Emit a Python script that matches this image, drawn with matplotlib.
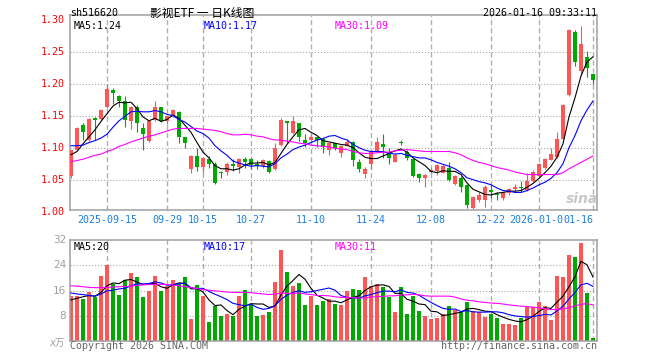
import matplotlib
from matplotlib import pyplot as plt
from matplotlib.transforms import blended_transform_factory

matplotlib.use("Agg")
plt.rcParams["lines.scale_dashes"] = False

# daily candles, 2025-09-05 .. 2026-01-16 (88 trading days)
opens = [1.056, 1.098, 1.136, 1.113, 1.146, 1.146, 1.165, 1.191, 1.182, 1.174,
         1.143, 1.165, 1.132, 1.111, 1.144, 1.164, 1.142, 1.150, 1.157, 1.117,
         1.068, 1.088, 1.071, 1.083, 1.075, 1.062, 1.063, 1.074, 1.071, 1.083,
         1.084, 1.074, 1.072, 1.080, 1.068, 1.105, 1.141, 1.124, 1.139, 1.113,
         1.113, 1.117, 1.115, 1.098, 1.108, 1.092, 1.104, 1.110, 1.078, 1.060,
         1.076, 1.095, 1.106, 1.095, 1.079, 1.109, 1.095, 1.083, 1.060, 1.054,
         1.063, 1.064, 1.062, 1.070, 1.045, 1.053, 1.043, 1.007, 1.019, 1.019,
         1.033, 1.028, 1.023, 1.030, 1.037, 1.039, 1.035, 1.049, 1.056, 1.070,
         1.082, 1.087, 1.115, 1.183, 1.282, 1.221, 1.242, 1.216]
highs = [1.098, 1.134, 1.140, 1.148, 1.149, 1.161, 1.200, 1.195, 1.183, 1.182,
         1.166, 1.168, 1.139, 1.145, 1.174, 1.165, 1.152, 1.162, 1.159, 1.118,
         1.090, 1.100, 1.087, 1.088, 1.078, 1.065, 1.078, 1.084, 1.085, 1.086,
         1.085, 1.082, 1.083, 1.081, 1.109, 1.148, 1.143, 1.150, 1.140, 1.122,
         1.123, 1.117, 1.118, 1.109, 1.109, 1.105, 1.115, 1.112, 1.084, 1.071,
         1.097, 1.118, 1.122, 1.101, 1.092, 1.113, 1.097, 1.084, 1.061, 1.060,
         1.070, 1.076, 1.075, 1.078, 1.058, 1.056, 1.044, 1.025, 1.032, 1.043,
         1.042, 1.032, 1.032, 1.038, 1.045, 1.049, 1.061, 1.066, 1.077, 1.085,
         1.100, 1.125, 1.170, 1.286, 1.285, 1.291, 1.252, 1.216]
lows = [1.053, 1.097, 1.113, 1.112, 1.113, 1.145, 1.163, 1.170, 1.164, 1.134,
        1.130, 1.126, 1.098, 1.110, 1.143, 1.141, 1.138, 1.149, 1.109, 1.101,
        1.062, 1.064, 1.061, 1.069, 1.044, 1.053, 1.059, 1.065, 1.061, 1.070,
        1.067, 1.067, 1.069, 1.062, 1.066, 1.104, 1.108, 1.123, 1.111, 1.102,
        1.111, 1.102, 1.092, 1.089, 1.097, 1.087, 1.103, 1.072, 1.063, 1.053,
        1.068, 1.094, 1.085, 1.076, 1.079, 1.105, 1.082, 1.055, 1.048, 1.040,
        1.061, 1.058, 1.062, 1.049, 1.043, 1.032, 1.007, 1.000, 1.016, 1.009,
        1.022, 1.020, 1.019, 1.027, 1.033, 1.032, 1.033, 1.048, 1.055, 1.068,
        1.081, 1.085, 1.114, 1.181, 1.229, 1.215, 1.212, 1.200]
closes = [1.097, 1.132, 1.125, 1.146, 1.145, 1.160, 1.193, 1.186, 1.174, 1.144,
          1.165, 1.139, 1.122, 1.143, 1.165, 1.143, 1.150, 1.160, 1.118, 1.108,
          1.088, 1.071, 1.085, 1.075, 1.046, 1.061, 1.075, 1.073, 1.084, 1.079,
          1.074, 1.073, 1.082, 1.063, 1.100, 1.144, 1.140, 1.143, 1.118, 1.108,
          1.118, 1.113, 1.102, 1.108, 1.101, 1.104, 1.110, 1.082, 1.068, 1.067,
          1.095, 1.110, 1.102, 1.085, 1.090, 1.108, 1.085, 1.057, 1.054, 1.059,
          1.066, 1.074, 1.073, 1.050, 1.057, 1.040, 1.011, 1.024, 1.027, 1.040,
          1.032, 1.027, 1.031, 1.037, 1.038, 1.038, 1.049, 1.063, 1.075, 1.084,
          1.091, 1.115, 1.168, 1.285, 1.235, 1.263, 1.225, 1.206]
# volume, 10k shares
volumes = [14.1, 14.1, 13.3, 15.5, 13.8, 20.5, 24.2, 18.0, 14.6, 19.2,
           21.5, 20.2, 13.8, 15.7, 20.5, 16.0, 17.5, 19.4, 18.5, 20.2,
           6.9, 17.8, 14.1, 6.1, 11.1, 8.0, 8.5, 8.0, 14.4, 16.2,
           11.7, 8.0, 8.2, 9.0, 18.6, 29.0, 22.0, 17.3, 18.5, 11.4,
           14.1, 11.4, 12.7, 13.3, 11.7, 11.4, 15.9, 16.5, 16.2, 20.2,
           17.3, 18.1, 17.0, 13.8, 9.3, 17.2, 8.5, 14.1, 9.5, 8.0,
           6.9, 7.3, 8.4, 10.9, 9.8, 9.1, 12.2, 9.5, 9.0, 7.4,
           8.5, 7.3, 5.3, 5.3, 5.0, 7.3, 10.8, 10.8, 12.4, 11.1,
           6.6, 20.7, 20.4, 27.4, 26.8, 31.3, 15.1, 0.7]

ma5 = [1.090, 1.095, 1.107, 1.118, 1.129, 1.142, 1.154, 1.166, 1.172, 1.171,
       1.172, 1.162, 1.149, 1.143, 1.147, 1.142, 1.145, 1.152, 1.147, 1.136,
       1.125, 1.109, 1.094, 1.085, 1.073, 1.068, 1.068, 1.066, 1.068, 1.074,
       1.077, 1.077, 1.078, 1.074, 1.078, 1.092, 1.106, 1.118, 1.129, 1.131,
       1.125, 1.120, 1.112, 1.110, 1.108, 1.106, 1.105, 1.101, 1.093, 1.086,
       1.084, 1.084, 1.088, 1.092, 1.096, 1.099, 1.094, 1.085, 1.079, 1.073,
       1.064, 1.062, 1.065, 1.064, 1.064, 1.059, 1.046, 1.036, 1.032, 1.028,
       1.027, 1.030, 1.031, 1.033, 1.033, 1.034, 1.039, 1.045, 1.053, 1.062,
       1.072, 1.086, 1.107, 1.149, 1.179, 1.213, 1.235, 1.243]
ma10 = [1.104, 1.104, 1.105, 1.109, 1.112, 1.116, 1.122, 1.133, 1.143, 1.150,
        1.157, 1.158, 1.157, 1.157, 1.159, 1.157, 1.153, 1.151, 1.145, 1.141,
        1.134, 1.127, 1.123, 1.116, 1.104, 1.096, 1.089, 1.080, 1.077, 1.074,
        1.072, 1.073, 1.072, 1.071, 1.076, 1.085, 1.091, 1.098, 1.102, 1.105,
        1.109, 1.113, 1.115, 1.119, 1.120, 1.116, 1.113, 1.106, 1.101, 1.097,
        1.095, 1.095, 1.095, 1.092, 1.091, 1.092, 1.089, 1.087, 1.085, 1.085,
        1.082, 1.078, 1.075, 1.072, 1.068, 1.062, 1.054, 1.051, 1.048, 1.046,
        1.043, 1.038, 1.034, 1.033, 1.031, 1.031, 1.034, 1.038, 1.043, 1.047,
        1.053, 1.062, 1.076, 1.101, 1.120, 1.143, 1.160, 1.174]
ma30 = [1.079, 1.081, 1.083, 1.086, 1.089, 1.091, 1.095, 1.098, 1.103, 1.106,
        1.110, 1.113, 1.116, 1.119, 1.121, 1.124, 1.127, 1.130, 1.131, 1.131,
        1.131, 1.131, 1.130, 1.129, 1.128, 1.126, 1.123, 1.121, 1.121, 1.122,
        1.121, 1.119, 1.118, 1.115, 1.113, 1.113, 1.111, 1.110, 1.108, 1.107,
        1.105, 1.104, 1.103, 1.102, 1.100, 1.099, 1.098, 1.095, 1.093, 1.092,
        1.092, 1.093, 1.094, 1.094, 1.096, 1.097, 1.098, 1.097, 1.096, 1.095,
        1.095, 1.095, 1.095, 1.095, 1.093, 1.090, 1.085, 1.081, 1.078, 1.076,
        1.073, 1.070, 1.068, 1.066, 1.063, 1.061, 1.059, 1.059, 1.059, 1.059,
        1.059, 1.059, 1.062, 1.068, 1.073, 1.078, 1.083, 1.088]
vol_ma5 = [13.0, 13.5, 14.0, 14.4, 14.2, 15.4, 17.5, 18.4, 18.2, 19.3,
           19.5, 18.7, 17.9, 18.1, 18.3, 17.2, 16.7, 17.8, 18.4, 18.3,
           16.5, 16.6, 15.5, 13.0, 11.2, 11.4, 9.6, 8.3, 10.0, 11.0,
           11.8, 11.7, 11.7, 10.6, 11.1, 14.6, 17.4, 19.2, 21.1, 19.6,
           16.7, 14.5, 13.6, 12.6, 12.6, 12.1, 13.0, 13.8, 14.3, 16.0,
           17.2, 17.7, 17.8, 17.3, 15.1, 15.1, 13.2, 12.6, 11.7, 11.5,
           9.4, 9.2, 8.0, 8.3, 8.7, 9.1, 10.1, 10.3, 9.9, 9.4,
           9.3, 8.3, 7.5, 6.8, 6.3, 6.0, 6.7, 7.8, 9.3, 10.5,
           10.3, 12.3, 14.2, 17.2, 20.4, 25.3, 24.2, 20.3]
vol_ma10 = [15.2, 14.9, 14.7, 14.4, 14.2, 14.9, 15.9, 16.1, 16.5, 16.7,
            17.5, 18.1, 18.1, 18.2, 18.8, 18.4, 17.7, 17.8, 18.2, 18.3,
            16.9, 16.6, 16.7, 15.7, 14.8, 14.0, 13.1, 11.9, 11.5, 11.1,
            11.6, 10.6, 10.0, 10.3, 11.1, 13.2, 14.5, 15.4, 15.9, 15.4,
            15.6, 16.0, 16.4, 16.8, 16.1, 14.4, 13.8, 13.7, 13.5, 14.3,
            14.7, 15.3, 15.8, 15.8, 15.6, 16.2, 15.4, 15.2, 14.5, 13.3,
            12.2, 11.2, 10.3, 10.0, 10.1, 9.3, 9.6, 9.2, 9.1, 9.1,
            9.2, 9.2, 8.9, 8.3, 7.9, 7.7, 7.5, 7.7, 8.0, 8.4,
            8.2, 9.5, 11.0, 13.3, 15.4, 17.8, 18.3, 17.3]
vol_ma30 = [17.5, 17.4, 17.2, 17.0, 16.9, 16.9, 17.0, 17.1, 17.2, 17.3,
            17.4, 17.6, 17.8, 17.9, 18.0, 18.0, 17.9, 17.7, 17.5, 17.2,
            16.9, 16.6, 16.3, 16.1, 15.9, 15.7, 15.5, 15.4, 15.4, 15.4,
            15.3, 15.1, 14.9, 14.7, 14.9, 15.2, 15.1, 15.1, 15.2, 14.9,
            14.7, 14.4, 14.4, 14.3, 14.0, 13.8, 13.8, 13.7, 13.6, 13.6,
            14.0, 14.0, 14.1, 14.3, 14.3, 14.6, 14.6, 14.8, 14.6, 14.3,
            14.2, 14.2, 14.2, 14.2, 13.9, 13.3, 12.9, 12.7, 12.4, 12.2,
            12.0, 11.9, 11.7, 11.4, 11.2, 11.0, 10.9, 10.7, 10.5, 10.2,
            9.9, 10.0, 10.1, 10.5, 11.1, 11.6, 11.8, 11.4]

date_pos = [6, 16, 22, 30, 40, 50, 60, 70, 78, 87]
date_labels = ["2025-09-15", "09-29", "10-15", "10-27", "11-10", "11-24",
               "12-08", "12-22", "2026-01-05", "01-16"]
price_ticks = [1.00, 1.05, 1.10, 1.15, 1.20, 1.25, 1.30]
vol_ticks = [8, 16, 24, 32]

RED = "#ff5555"
GREEN = "#00a800"
MONO = "DejaVu Sans Mono"
W, H = 660, 360


def box(left, top, right, bottom):
    return [left / W, 1 - bottom / H, (right - left) / W, (bottom - top) / H]


def fx(x):
    return x / W


def fy(y):
    return 1 - y / H


fig = plt.figure(figsize=(6.6, 3.6), dpi=100)
fig.patch.set_facecolor("white")
ax = fig.add_axes(box(70, 15, 597, 210))
axv = fig.add_axes(box(70, 240, 597, 341))

n = len(closes)
xs = list(range(n))
colors = [RED if c >= o else GREEN for o, c in zip(opens, closes)]
bottoms = [min(o, c) for o, c in zip(opens, closes)]
heights = [max(abs(c - o), 0.0022) for o, c in zip(opens, closes)]

for a in (ax, axv):
    a.set_xlim(-1 / 6, 526 / 6)
    a.set_xticks([])
    a.set_yticks([])
    for s in a.spines.values():
        s.set_color("#a0a0a0")
        s.set_linewidth(1.1)
    for p in date_pos:
        a.axvline(p, color="#b0b0b0", lw=1.0, dashes=(3.6, 2.2), zorder=0)

ax.set_ylim(1.0036, 1.3083)
axv.set_ylim(-0.1, 32.1)

for p in price_ticks[1:-1]:
    ax.axhline(p, color="#a8a8a8", lw=0.8, dashes=(0.8, 1.4), zorder=0)
for v in vol_ticks[:-1]:
    axv.axhline(v, color="#a8a8a8", lw=0.8, dashes=(0.8, 1.4), zorder=0)

# candles
ax.vlines(xs, lows, highs, colors=colors, lw=0.8, zorder=2)
ax.bar(xs, heights, bottom=bottoms, width=0.8, color=colors, linewidth=0, zorder=3)
ax.plot(xs, ma5, color="black", lw=0.8, zorder=4)
ax.plot(xs, ma10, color="#0000ff", lw=0.8, zorder=4)
ax.plot(xs, ma30, color="#ff00ff", lw=0.8, zorder=4)

# volume
axv.bar(xs, volumes, width=0.8, color=colors, linewidth=0, zorder=2)
axv.plot(xs, vol_ma5, color="black", lw=0.8, zorder=4)
axv.plot(xs, vol_ma10, color="#0000ff", lw=0.8, zorder=4)
axv.plot(xs, vol_ma30, color="#ff00ff", lw=0.8, zorder=4)

# axis labels
tr = blended_transform_factory(ax.transAxes, ax.transData)
for p in price_ticks:
    ax.text(-5 / 527, p, f"{p:.2f}", transform=tr, ha="right", va="center",
            color="red", fontsize=7.2, family=MONO)
trv = blended_transform_factory(axv.transAxes, axv.transData)
for v in vol_ticks:
    axv.text(-4 / 527, v, str(v), transform=trv, ha="right", va="center",
             color="#a0a0a0", fontsize=7.5)
fig.text(fx(49), fy(343), "x万", color="#a0a0a0", fontsize=7, style="italic",
         family=["DejaVu Sans", "Noto Sans CJK SC"], va="center")

# date labels; the last one sits flush with the right edge and covers the
# tail of the previous label, like the original
trd = blended_transform_factory(ax.transData, ax.transAxes)
for p, lab in zip(date_pos, date_labels):
    last = p == date_pos[-1]
    t = ax.text(p, -10 / 195, lab, transform=trd, ha="right" if last else "center",
                va="center", color="#1a7fe0", fontsize=7.2, family=MONO)
    if last:
        t.set_bbox(dict(facecolor="white", edgecolor="none", pad=0))

# header texts
fig.text(fx(70), fy(13), "sh516620", fontsize=7.2, family=MONO, va="center")
fig.text(fx(150), fy(13), "影视ETF 一 日K线图", fontsize=8.5,
         family=["Noto Sans CJK SC", "DejaVu Sans"], va="center")
fig.text(fx(597), fy(13), "2026-01-16 09:33:11", fontsize=7.2, family=MONO,
         va="center", ha="right")

fig.text(fx(74), fy(26), f"MA5:{ma5[-1]:.2f}", fontsize=7.2, family=MONO, va="center")
fig.text(fx(204), fy(26), f"MA10:{ma10[-1]:.2f}", fontsize=7.2, family=MONO,
         va="center", color="#0000ff")
fig.text(fx(335), fy(26), f"MA30:{ma30[-1]:.2f}", fontsize=7.2, family=MONO,
         va="center", color="#ff00ff")
fig.text(fx(74), fy(247), f"MA5:{vol_ma5[-1]:.0f}", fontsize=7.2, family=MONO, va="center")
fig.text(fx(204), fy(247), f"MA10:{vol_ma10[-1]:.0f}", fontsize=7.2, family=MONO,
         va="center", color="#0000ff")
fig.text(fx(335), fy(247), f"MA30:{vol_ma30[-1]:.0f}", fontsize=7.2, family=MONO,
         va="center", color="#ff00ff")

fig.text(fx(70), fy(346), "Copyright 2026 SINA.COM", fontsize=7.2, family=MONO,
         va="center", color="#666666")
fig.text(fx(597), fy(346), "http://finance.sina.com.cn", fontsize=7.2, family=MONO,
         va="center", ha="right", color="#666666")

# watermark
fig.text(fx(582), fy(199), "sina", fontsize=10, weight="bold", style="italic",
         color="#c8c8c8", ha="center", va="center", zorder=1)

fig.savefig("out.png", dpi=100, facecolor="white")
